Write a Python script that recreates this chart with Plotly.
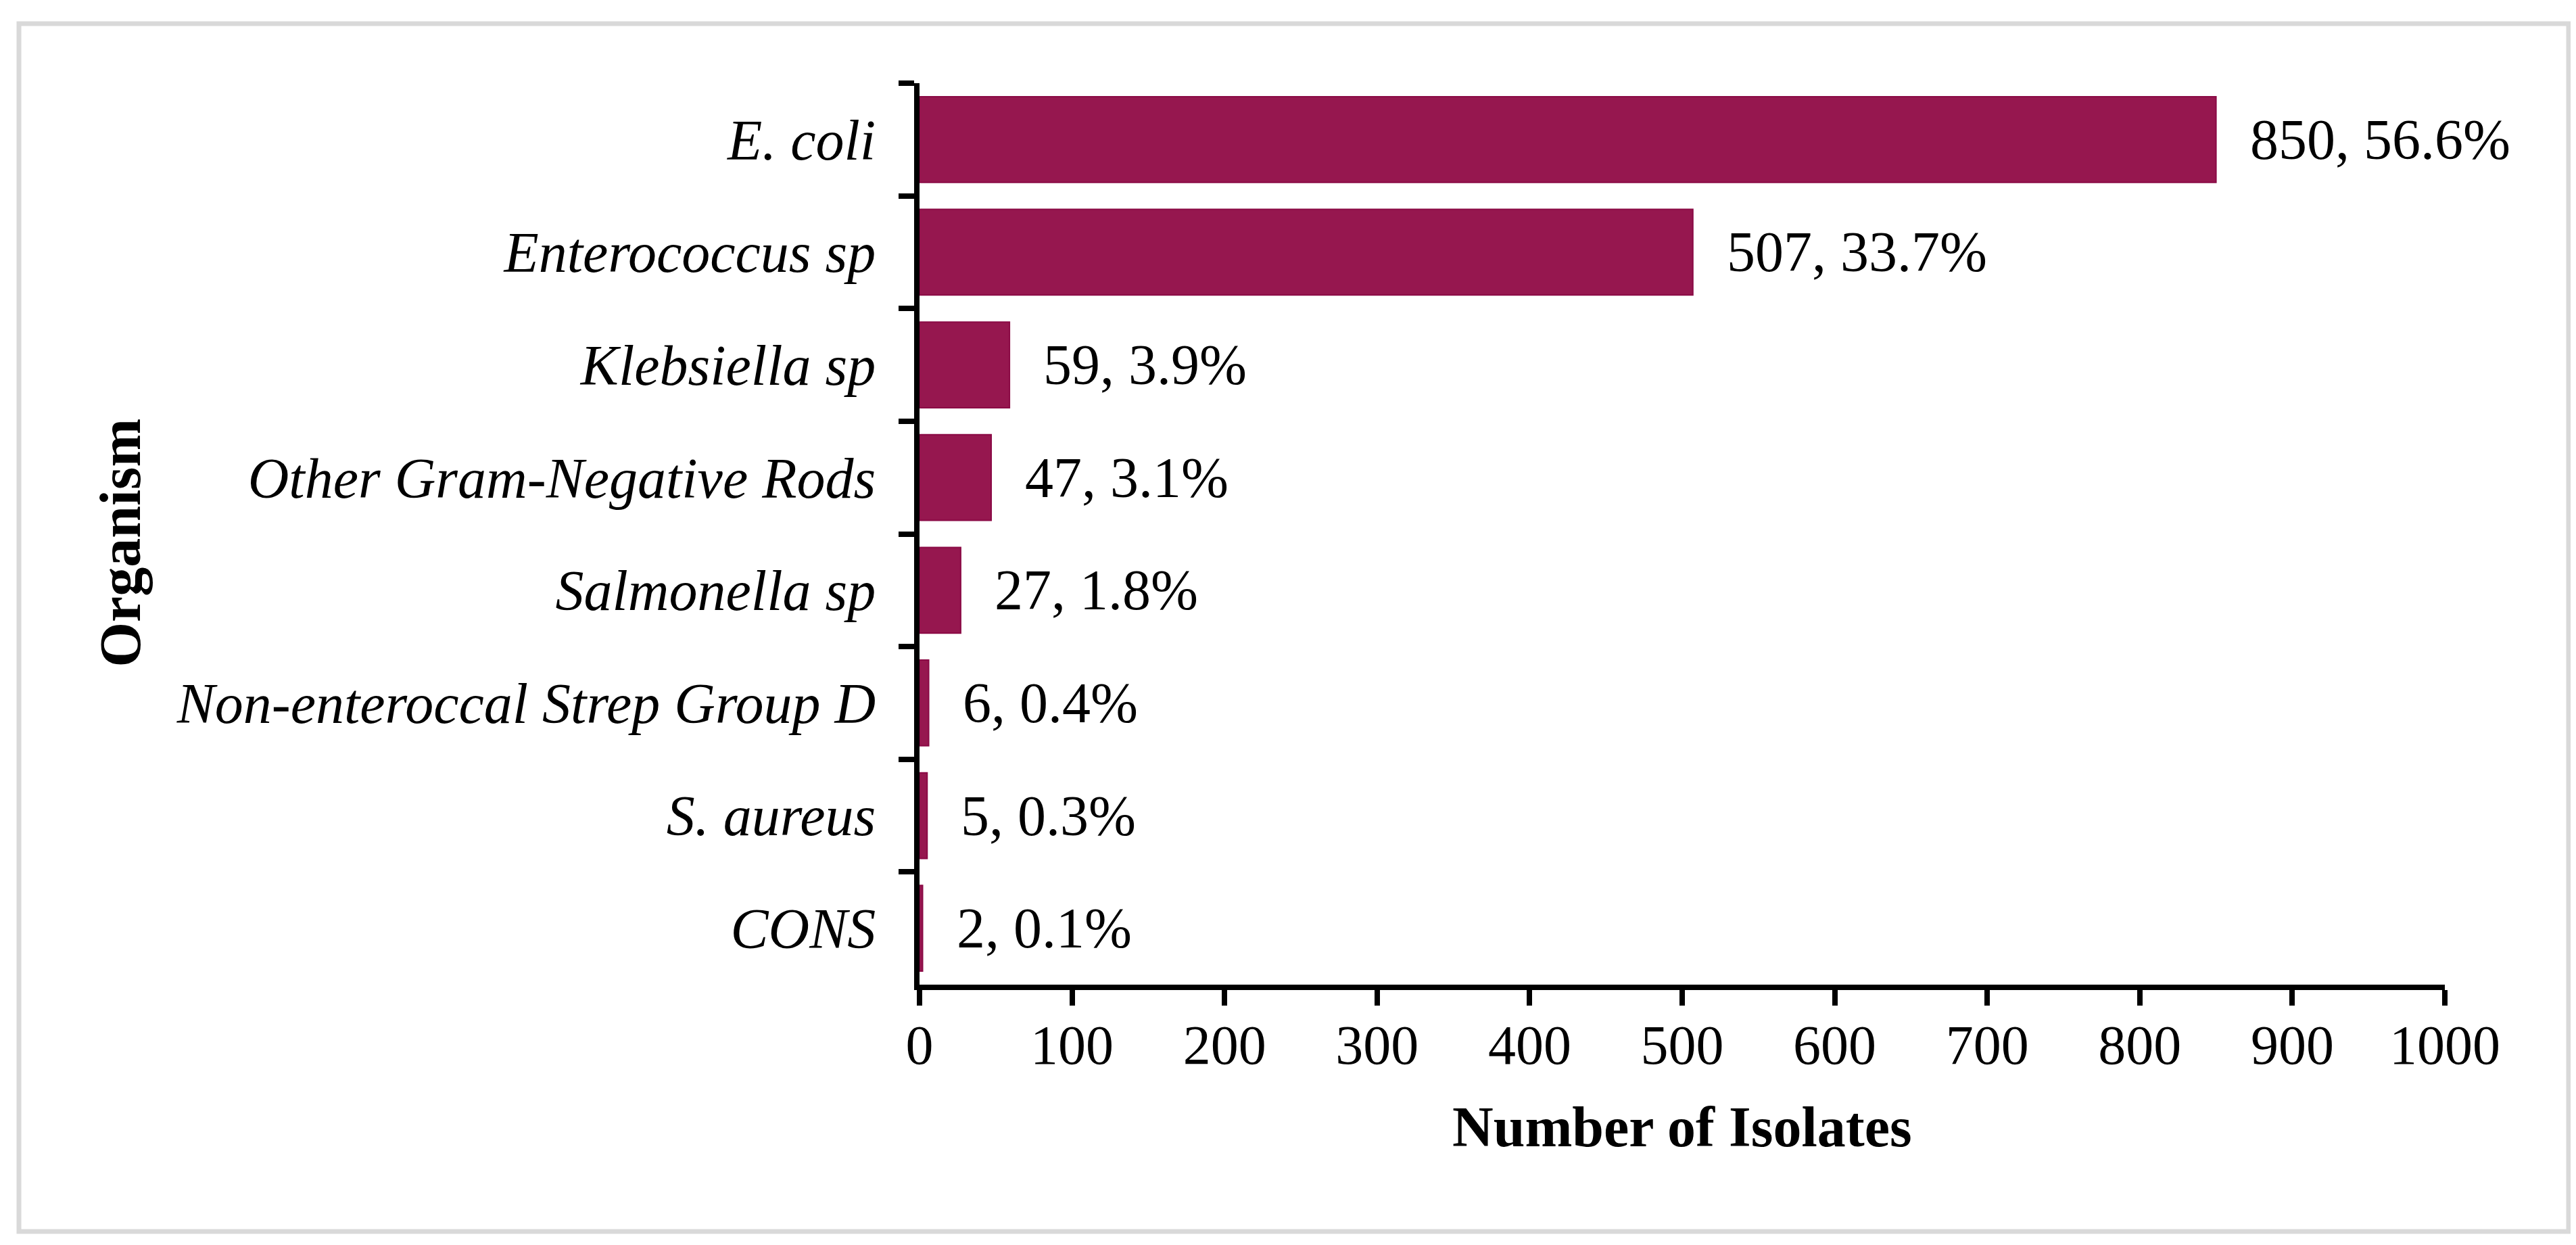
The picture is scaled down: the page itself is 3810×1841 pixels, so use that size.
import plotly.graph_objects as go

organisms = ["E. coli", "Enterococcus sp", "Klebsiella sp", "Other Gram-Negative Rods",
             "Salmonella sp", "Non-enteroccal Strep Group D", "S. aureus", "CONS"]
counts = [850, 507, 59, 47, 27, 6, 5, 2]
percents = ["56.6%", "33.7%", "3.9%", "3.1%", "1.8%", "0.4%", "0.3%", "0.1%"]
x_ticks = [0, 100, 200, 300, 400, 500, 600, 700, 800, 900, 1000]

W, H = 3810, 1841
L, R, T, B = 1352, 3608, 115, 1448
FONT = "Liberation Serif, Times New Roman, serif"
BAR = "#96174F"

fig = go.Figure()
fig.add_trace(go.Bar(
    x=counts, y=organisms, orientation="h",
    marker=dict(color=BAR, line=dict(color="#8A0A45", width=2)),
    hoverinfo="skip",
))

for org, c, p in zip(organisms, counts, percents):
    fig.add_annotation(x=c, y=org, xref="x", yref="y", text=f"{c}, {p}",
                       showarrow=False, xanchor="left", yanchor="middle", xshift=48,
                       font=dict(family=FONT, size=84, color="black"))

fig.add_annotation(x=0.5, y=(B - 1658) / (B - T), xref="paper", yref="paper",
                   text="<b>Number of Isolates</b>", showarrow=False,
                   xanchor="center", yanchor="middle",
                   font=dict(family=FONT, size=84, color="black"))
fig.add_annotation(x=(170 - L) / (R - L), y=0.49, xref="paper", yref="paper",
                   text="<b>Organism</b>", showarrow=False, textangle=-90,
                   xanchor="center", yanchor="middle",
                   font=dict(family=FONT, size=86, color="black"))

# light grey frame around whole figure
fig.add_shape(type="rect", xref="paper", yref="paper",
              x0=(20 - L) / (R - L), x1=(3791 - L) / (R - L),
              y0=(B - 1813) / (B - T), y1=(B - 27) / (B - T),
              line=dict(color="#D9D9D9", width=7), fillcolor="rgba(0,0,0,0)", layer="below")

fig.update_layout(
    width=W, height=H,
    margin=dict(l=L, r=W - R, t=T, b=H - B, pad=0),
    paper_bgcolor="white", plot_bgcolor="white",
    bargap=0.24, showlegend=False,
    font=dict(family=FONT, color="black"),
    xaxis=dict(range=[0, 1000], tickvals=x_ticks, ticktext=[str(v) for v in x_ticks],
               showgrid=False, zeroline=False, showline=True, linecolor="black", linewidth=8,
               ticks="outside", ticklen=23, tickwidth=8, tickcolor="black",
               tickfont=dict(family=FONT, size=82, color="black"), ticklabelstandoff=-12),
    yaxis=dict(autorange="reversed", type="category", tickson="boundaries",
               showgrid=False, zeroline=False, showline=True, linecolor="black", linewidth=8,
               ticks="outside", ticklen=23, tickwidth=8, tickcolor="black",
               tickfont=dict(family=FONT, size=84, color="black", style="italic"),
               ticklabelstandoff=40),
)

fig.write_html("out.html")
